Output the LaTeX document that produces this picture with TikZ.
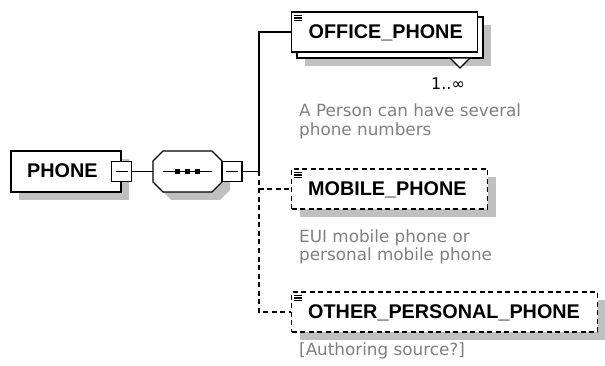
\documentclass[tikz,border=0pt]{standalone}
\usepackage{fontspec}
\setmainfont{Liberation Sans}
\newfontfamily\notefont{DejaVu Sans}
\usetikzlibrary{shadows}
\definecolor{shadowgray}{RGB}{192,192,192}
\definecolor{notegray}{RGB}{128,128,128}
\tikzset{
  wire/.style={line width=1.4pt},
  optwire/.style={wire, dash pattern=on 5pt off 3.5pt},
  boxshadow/.style={drop shadow={shadow xshift=8pt, shadow yshift=-8pt, fill=shadowgray, opacity=1}},
  elembox/.style={draw, fill=white, line width=1.4pt, inner sep=0pt},
  optbox/.style={elembox, dash pattern=on 5pt off 3.5pt},
  minusbox/.style={draw, fill=white, line width=1.4pt, minimum size=20pt, inner sep=0pt,
    path picture={\draw[line width=1.4pt]
      ([xshift=4pt]path picture bounding box.west) -- ([xshift=-4pt]path picture bounding box.east);}},
  elemtext/.style={font=\fontsize{19.8}{24}\selectfont\bfseries, inner sep=0pt, anchor=base west},
  note/.style={font=\notefont\fontsize{16.8}{18.5}\selectfont, text=notegray, inner sep=0pt, anchor=base west},
  multtext/.style={font=\notefont\fontsize{16}{18}\selectfont, inner sep=0pt, anchor=base},
  docicon/.pic={\draw[line width=1.1pt] (3.5,4) -- (11,4) (3.5,6.7) -- (11,6.7) (3.5,9.4) -- (11,9.4);}
}
\begin{document}
\begin{tikzpicture}[x=1pt, y=-1pt]
\useasboundingbox (0,0) rectangle (605,366);

% root element
\node[elembox, boxshadow, minimum width=110pt, minimum height=41pt] (phone) at (66,171.5) {};
\node[elemtext] (phonelabel) at (27,177.5) {PHONE};
\node[minusbox] (phonecoll) at (phone.east) {};

% sequence compositor
\node[minimum width=69pt, minimum height=41pt, inner sep=0pt] (seq) at (187.5,171.5) {};
\draw[wire, fill=white, boxshadow]
  (163,151) -- (212,151) -- (222,161) -- (222,182) -- (212,192)
  -- (163,192) -- (153,182) -- (153,161) -- cycle;
\draw[wire] (163,171.5) -- (212,171.5);
\foreach \cx in {177.5,187.5,197.5}
  \fill (\cx-2.7,168.8) rectangle (\cx+2.7,174.2);
\node[minusbox] (seqcoll) at (232,171.5) {};
\coordinate (jn) at (259,171.5);

% OFFICE_PHONE (repeatable)
\node[elembox, boxshadow, minimum width=186pt, minimum height=41pt] (officeback) at (390,37.5) {};
\draw[wire, fill=white] (450,58) -- (470,58) -- (460,68) -- cycle;
\node[elembox, minimum width=186pt, minimum height=40pt] (office) at (384.5,32) {};
\pic at (office.north west) {docicon};
\node[elemtext] (officelabel) at (308.5,38.5) {OFFICE\_PHONE};
\node[multtext] (officemult) at (448,89.5) {1..∞};
\node[note] (officenote1) at (299,117) {A Person can have several};
\node[note] (officenote2) at (299,135.5) {phone numbers};

% MOBILE_PHONE (optional)
\node[optbox, boxshadow, minimum width=196pt, minimum height=40pt] (mobile) at (389.5,189) {};
\pic at (mobile.north west) {docicon};
\node[elemtext] (mobilelabel) at (308,195.5) {MOBILE\_PHONE};
\node[note] (mobilenote1) at (299,243) {EUI mobile phone or};
\node[note] (mobilenote2) at (299,261) {personal mobile phone};

% OTHER_PERSONAL_PHONE (optional)
\node[optbox, boxshadow, minimum width=306pt, minimum height=40pt] (other) at (444.5,312) {};
\pic at (other.north west) {docicon};
\node[elemtext] (otherlabel) at (308,318.5) {OTHER\_PERSONAL\_PHONE};
\node[note] (othernote) at (299,355) {[Authoring source?]};

% connectors
\draw[wire] (phonecoll.east) -- (seq.west);
\draw[wire] (seqcoll.east) -- (jn);
\draw[wire] (jn) |- (office.west);
\draw[optwire] (jn) |- (mobile.west);
\draw[optwire] (jn) |- (other.west);
\end{tikzpicture}
\end{document}
